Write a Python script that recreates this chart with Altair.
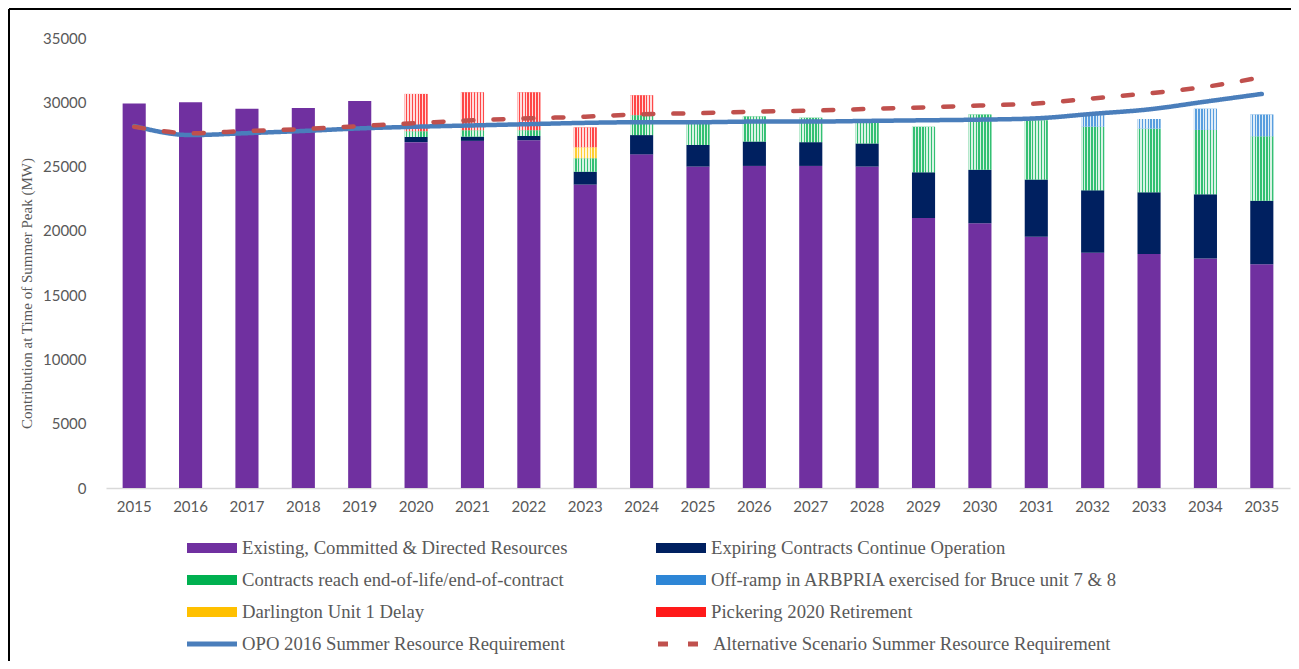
import altair as alt
import pandas as pd

# ---------------- data ----------------
years = [str(y) for y in range(2015, 2036)]

existing = [29900, 30000, 29500, 29550, 30100, 26900, 27000, 27050, 23600, 25950,
            25000, 25050, 25050, 25000, 21000, 20600, 19550, 18300, 18200, 17850, 17400]
expiring = [0, 0, 0, 0, 0, 400, 330, 330, 1000, 1500,
            1680, 1900, 1850, 1800, 3550, 4150, 4450, 4850, 4800, 5000, 4950]
contracts_end = [0, 0, 0, 0, 0, 450, 500, 450, 1050, 1550,
                 1720, 1950, 1900, 1700, 3550, 4300, 4600, 4950, 4950, 5000, 5000]
offramp = [0] * 17 + [900, 750, 1650, 1700]
darlington = [0] * 8 + [850] + [0] * 12
pickering = [0] * 5 + [2900, 2950, 2950, 1550, 1550] + [0] * 11

opo_req = [28150, 27450, 27600, 27770, 27970, 28100, 28200, 28300, 28400, 28450,
           28450, 28500, 28500, 28550, 28600, 28650, 28750, 29100, 29450, 30050, 30650]
alt_req = [28100, 27600, 27770, 27920, 28150, 28380, 28600, 28750, 28880, 29070,
           29150, 29270, 29350, 29480, 29600, 29750, 29900, 30300, 30700, 31200, 31950]

bar_series = [
    "Existing, Committed & Directed Resources",
    "Expiring Contracts Continue Operation",
    "Contracts reach end-of-life/end-of-contract",
    "Off-ramp in ARBPRIA exercised for Bruce unit 7 & 8",
    "Darlington Unit 1 Delay",
    "Pickering 2020 Retirement",
]
bar_colors = ["#7030A0", "#002060", "#00B050", "#2E86D6", "#FFC000", "#FF1A1A"]
patterned = bar_series[2:]

line_series = [
    "OPO 2016 Summer Resource Requirement",
    "Alternative Scenario Summer Resource Requirement",
]
line_colors = ["#4A7EBB", "#C0504D"]

# ---------------- tables ----------------
bar_values = [existing, expiring, contracts_end, offramp, darlington, pickering]
rows = []
for k, (name, vals) in enumerate(zip(bar_series, bar_values)):
    for y, v in zip(years, vals):
        if v > 0:
            rows.append({"year": y, "series": name, "value": v, "order": k})
bars_df = pd.DataFrame(rows)

lrows = []
for name, vals in zip(line_series, [opo_req, alt_req]):
    for y, v in zip(years, vals):
        lrows.append({"year": y, "line": name, "value": v})
lines_df = pd.DataFrame(lrows)

# ---------------- styles ----------------
GREY = "#595959"
SERIF = "Liberation Serif"
SANS = "Lato"
LEG_FS = 18.7

x_enc = alt.X(
    "year:N",
    sort=years,
    scale=alt.Scale(paddingInner=0.59, paddingOuter=0.295),
    axis=alt.Axis(title=None, labelAngle=0, ticks=False, domainColor="#d9d9d9",
                  domainWidth=1.5, labelFont=SANS, labelFontSize=15,
                  labelColor=GREY, labelPadding=11),
)
y_scale = alt.Scale(domain=[0, 35000], nice=False)
y_axis = alt.Axis(values=list(range(0, 35001, 5000)), format="d",
                  title="Contribution at Time of Summer Peak (MW)",
                  titleFont=SERIF, titleFontSize=15, titleFontWeight="normal",
                  titleColor=GREY, titleY=255, titlePadding=8,
                  domain=False, ticks=False, grid=False,
                  labelFont=SANS, labelFontSize=15, labelColor=GREY, labelPadding=20)

# white texture for patterned segments
stops = []
n = 8
for i in range(n):
    a, b, c = i / n, (i + 0.5) / n, (i + 1) / n
    stops += [
        alt.GradientStop(color="rgba(255,255,255,0.85)", offset=a),
        alt.GradientStop(color="rgba(255,255,255,0.85)", offset=b),
        alt.GradientStop(color="rgba(255,255,255,0.2)", offset=b),
        alt.GradientStop(color="rgba(255,255,255,0.2)", offset=c),
    ]
stripe = alt.LinearGradient(gradient="linear", stops=stops, x1=0, x2=1, y1=0, y2=0)

base = alt.Chart(bars_df).transform_stack(
    stack="value", groupby=["year"], as_=["y0", "y1"],
    sort=[alt.SortField("order", order="ascending")],
)

bars = base.mark_bar().encode(
    x=x_enc,
    y=alt.Y("y0:Q", scale=y_scale, axis=y_axis),
    y2="y1:Q",
    color=alt.Color(
        "series:N",
        scale=alt.Scale(domain=bar_series, range=bar_colors),
        legend=alt.Legend(
            title=None, orient="none", legendX=81, legendY=500, columns=2,
            direction="horizontal", symbolType="M-1,-0.2H1V0.2H-1Z",
            symbolSize=2500, symbolStrokeWidth=0, symbolOpacity=1, clipHeight=20,
            labelOffset=5, labelFont=SERIF, labelFontSize=LEG_FS, labelColor=GREY,
            labelLimit=700, rowPadding=12, columnPadding=88, padding=0,
        ),
    ),
)

texture = base.transform_filter(
    alt.FieldOneOfPredicate(field="series", oneOf=patterned)
).mark_bar(fill=stripe).encode(
    x=alt.X("year:N", sort=years),
    y="y0:Q",
    y2="y1:Q",
)

line_legend = alt.Legend(
    title=None, orient="none", legendX=78.5, legendY=596, columns=2,
    direction="horizontal", symbolType="stroke", symbolSize=2500,
    symbolStrokeWidth=5, clipHeight=20, labelOffset=2.5,
    labelFont=SERIF, labelFontSize=LEG_FS, labelColor=GREY, labelLimit=700,
    rowPadding=12, columnPadding=90, padding=0,
)

lines = alt.Chart(lines_df).mark_line(
    strokeWidth=4.5, strokeCap="round", interpolate="monotone"
).encode(
    x=alt.X("year:N", sort=years),
    y=alt.Y("value:Q"),
    color=alt.Color(
        "line:N",
        scale=alt.Scale(domain=line_series, range=line_colors),
        legend=line_legend,
    ),
    strokeDash=alt.StrokeDash(
        "line:N",
        scale=alt.Scale(domain=line_series, range=[[1, 0], [10, 20]]),
        legend=line_legend,
    ),
)

frame_df = pd.DataFrame({"k": [0]})
frame_top = alt.Chart(frame_df).mark_rule(color="black", strokeWidth=2).encode(
    x=alt.value(-97), x2=alt.value(1186), y=alt.value(-29)
)
frame_left = alt.Chart(frame_df).mark_rule(color="black", strokeWidth=2).encode(
    x=alt.value(-97), y=alt.value(-29), y2=alt.value(624)
)

chart = alt.layer(bars, texture, lines, frame_top, frame_left).resolve_scale(
    color="independent", strokeDash="independent"
).properties(
    width=1184, height=450,
    autosize=alt.AutoSizeParams(type="none"),
    padding={"left": 98, "top": 30, "right": 1, "bottom": 173},
).configure(background="white").configure_view(stroke=None)

chart.save("out.html", embed_options={"renderer": "svg", "actions": False})
